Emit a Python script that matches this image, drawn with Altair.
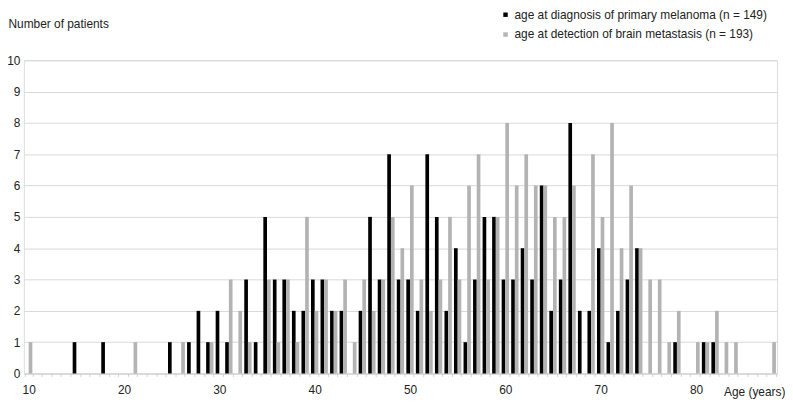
import altair as alt
import pandas as pd

ages = list(range(10, 89))

primary_ages = [15, 18, 25, 27, 28, 29, 30, 31, 33, 34, 35, 36, 37, 38, 39, 40, 41, 42, 43,
                45, 46, 47, 48, 49, 50, 51, 52, 53, 54, 55, 56, 57, 58, 59, 60, 61, 62, 63,
                64, 65, 66, 67, 68, 69, 70, 71, 72, 73, 74, 78, 81, 82]
primary_counts = [1, 1, 1, 1, 2, 1, 2, 1, 3, 1, 5, 3, 3, 2, 2, 3, 3, 2, 2,
                  2, 5, 3, 7, 3, 3, 2, 7, 5, 2, 4, 1, 3, 5, 5, 3, 3, 4, 3,
                  6, 2, 3, 8, 2, 2, 4, 1, 2, 3, 4, 1, 1, 1]

brain_ages = [10, 21, 26, 29, 31, 32, 33, 35, 36, 37, 38, 39, 40, 41, 42, 43, 44, 45, 46,
              47, 48, 49, 50, 51, 52, 53, 54, 55, 56, 57, 58, 59, 60, 61, 62, 63, 64, 65,
              66, 67, 69, 70, 71, 72, 73, 74, 75, 76, 77, 78, 80, 81, 82, 83, 84, 88]
brain_counts = [1, 1, 1, 1, 3, 2, 1, 3, 1, 3, 1, 5, 2, 3, 2, 3, 1, 3, 2,
                3, 5, 4, 6, 3, 2, 3, 5, 3, 6, 7, 3, 5, 8, 6, 7, 6, 6, 5,
                5, 6, 7, 5, 8, 4, 6, 4, 3, 3, 1, 2, 1, 1, 2, 1, 1, 1]

series_names = ["age at diagnosis of primary melanoma (n = 149)",
                "age at detection of brain metastasis (n = 193)"]
series_colors = ["#000000", "#b3b3b3"]

rows = []
for a, c in zip(primary_ages, primary_counts):
    rows.append({"age": a, "series": series_names[0], "count": c})
for a, c in zip(brain_ages, brain_counts):
    rows.append({"age": a, "series": series_names[1], "count": c})
df = pd.DataFrame(rows)

FONT = "Liberation Sans"

chart = alt.Chart(df).mark_bar().encode(
    x=alt.X("age:O",
            scale=alt.Scale(domain=ages, paddingInner=0.23, paddingOuter=0.12),
            axis=alt.Axis(
                title="Age (years)", titleX=706, titleY=22, titleAlign="left",
                titleBaseline="alphabetic", titleFontWeight="normal", titleFontSize=12,
                labelExpr="datum.value % 10 == 0 ? datum.label : ''",
                labelAngle=0, labelOverlap=False, labelPadding=8, labelFontSize=12,
                tickBand="extent", tickSize=3, tickColor="#d0d0d0",
                domainColor="#d0d0d0", grid=False)),
    xOffset=alt.XOffset("series:N", sort=series_names,
                        scale=alt.Scale(paddingInner=0, paddingOuter=0)),
    y=alt.Y("count:Q",
            scale=alt.Scale(domain=[0, 10], nice=False),
            axis=alt.Axis(
                values=list(range(0, 11)), title="Number of patients",
                titleAngle=0, titleX=-16, titleY=-33, titleAlign="left",
                titleBaseline="alphabetic", titleFontWeight="normal", titleFontSize=12,
                labelPadding=4, labelFontSize=12, domain=False, ticks=False,
                gridColor="#d9d9d9")),
    color=alt.Color("series:N", sort=series_names,
                    scale=alt.Scale(domain=series_names, range=series_colors),
                    legend=alt.Legend(title=None, orient="none", legendX=480, legendY=-52,
                                      symbolType="square", symbolSize=20,
                                      symbolStrokeWidth=0, labelFontSize=12,
                                      labelOffset=3, rowPadding=8, padding=0,
                                      labelLimit=0, labelColor="#222222")),
).properties(
    width=760, height=316,
    autosize=alt.AutoSizeParams(type="none"),
    padding={"left": 16, "top": 51, "right": 8, "bottom": 26},
).configure_view(stroke=None).configure(
    font=FONT
).configure_axis(
    labelColor="#222222", titleColor="#222222", labelFont=FONT, titleFont=FONT
).configure_legend(labelFont=FONT)

chart.save("out.html", embed_options={"renderer": "svg", "actions": False})
